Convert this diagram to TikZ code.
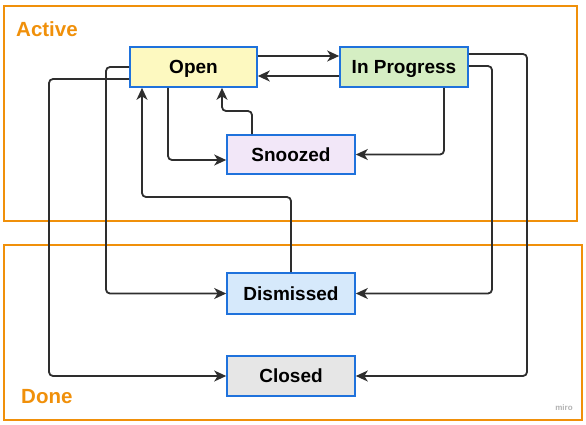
\documentclass[tikz,border=0pt]{standalone}
\usepackage{fontspec}
\setmainfont{Liberation Sans}
\usetikzlibrary{arrows.meta}
\definecolor{frameor}{HTML}{F0900A}
\definecolor{boxbl}{HTML}{1F72DC}
\definecolor{lineg}{HTML}{2E2E2E}
\definecolor{fopen}{HTML}{FDF9C0}
\definecolor{fprog}{HTML}{D5EEC3}
\definecolor{fsnz}{HTML}{F2E7F8}
\definecolor{fdis}{HTML}{D6E9FB}
\definecolor{fclo}{HTML}{E6E6E6}
\tikzset{
  statebox/.style={draw=boxbl, line width=1.6pt, minimum height=40pt, inner sep=0pt,
    text height=13.6pt, text depth=0pt,
    font=\fontsize{19}{21}\selectfont\bfseries, text=black},
  groupframe/.style={draw=frameor, line width=2pt},
  grouplabel/.style={text=frameor, font=\fontsize{20.5}{22}\selectfont\bfseries, anchor=west, inner sep=0pt},
  conn/.style={draw=lineg, line width=1.8pt, rounded corners=4pt,
    -{Stealth[length=12pt,width=11pt,inset=3.5pt]}},
}
\begin{document}
\begin{tikzpicture}[x=1pt,y=-1pt]
\useasboundingbox (0,0) rectangle (586,424);
% frames
\draw[groupframe] (4,6) rectangle (577,221);
\draw[groupframe] (4,245) rectangle (582,420);
\node[grouplabel] (lact) at (16,29) {Active};
\node[grouplabel] (ldone) at (21,397) {Done};
% states
\node[statebox, fill=fopen, minimum width=127pt] (open) at (193.5,67) {Open};
\node[statebox, fill=fprog, minimum width=128pt] (prog) at (404,67) {In Progress};
\node[statebox, fill=fsnz, minimum width=128pt, minimum height=39pt] (snz) at (291,154.5) {Snoozed};
\node[statebox, fill=fdis, minimum width=128pt, minimum height=41pt] (dis) at (291,293.5) {Dismissed};
\node[statebox, fill=fclo, minimum width=128pt] (clo) at (291,376) {Closed};
\node[text=gray!60, font=\fontsize{8}{9}\selectfont\bfseries] (miro) at (564,408) {miro};
% bend coordinates
\coordinate (c4) at (0,111);
\coordinate (c6) at (0,197);
\coordinate (c7) at (106,0);
\coordinate (c8) at (49,0);
\coordinate (c9) at (492,0);
\coordinate (c10) at (527,0);
% connectors
\draw[conn] ([yshift=11pt]open.east) -- ([yshift=11pt]prog.west);
\draw[conn] ([yshift=-9pt]prog.west) -- ([yshift=-9pt]open.east);
\draw[conn] ([xshift=-25.5pt]open.south) |- ([yshift=-5.5pt]snz.west);
\draw[conn] ([xshift=-39pt]snz.north) -- ([xshift=-39pt]snz.north |- c4) -| ([xshift=28.5pt]open.south);
\draw[conn] ([xshift=40pt]prog.south) |- (snz.east);
\draw[conn] (dis.north) -- (dis.north |- c6) -| ([xshift=-51.5pt]open.south);
\draw[conn] (open.west) -- (open.west -| c7) |- (dis.west);
\draw[conn] ([yshift=-12pt]open.west) -- ([yshift=-12pt]open.west -| c8) |- (clo.west);
\draw[conn] ([yshift=1pt]prog.east) -- ([yshift=1pt]prog.east -| c9) |- (dis.east);
\draw[conn] ([yshift=13pt]prog.east) -- ([yshift=13pt]prog.east -| c10) |- (clo.east);
\end{tikzpicture}
\end{document}
